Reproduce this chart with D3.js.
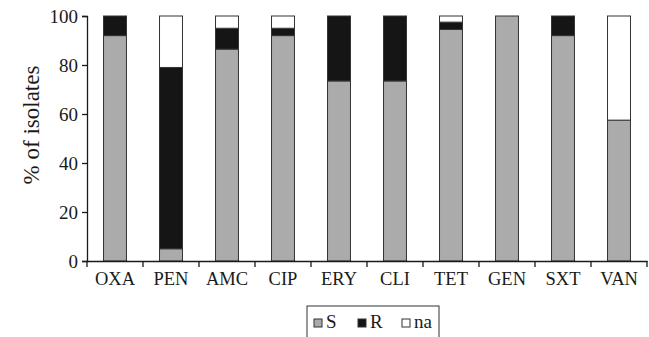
<!DOCTYPE html>
<html>
<head>
<meta charset="utf-8">
<script src="https://cdn.jsdelivr.net/npm/d3@7"></script>
<style>
  body { margin: 0; background: #fff; }
  svg text { font-family: "Liberation Serif", "Times New Roman", serif; fill: #1a1a1a; }
</style>
</head>
<body>
<div id="chart"></div>
<script>
// data
const drugs = ["OXA", "PEN", "AMC", "CIP", "ERY", "CLI", "TET", "GEN", "SXT", "VAN"];
const susceptible = [92, 5, 86.5, 92, 73.5, 73.5, 94.5, 100, 92, 57.5];
const resistant = [8, 74, 8.5, 3, 26.5, 26.5, 3, 0, 8, 0];
const notAvailable = [0, 21, 5, 5, 0, 0, 2.5, 0, 0, 42.5];
const yTicks = [0, 20, 40, 60, 80, 100];
const seriesNames = ["S", "R", "na"];
const seriesColors = ["#ababab", "#151515", "#ffffff"];

const W = 649, H = 337;
const margin = {top: 16, right: 2, bottom: 76, left: 87};
const width = W - margin.left - margin.right;
const height = H - margin.top - margin.bottom;

const rows = drugs.map((d, i) => ({drug: d, S: susceptible[i], R: resistant[i], na: notAvailable[i]}));
const stacked = d3.stack().keys(seriesNames)(rows);

const svg = d3.select("#chart").append("svg")
  .attr("width", W).attr("height", H);
const g = svg.append("g").attr("transform", `translate(${margin.left},${margin.top})`);

const x = d3.scaleBand().domain(drugs).range([0, width])
  .paddingInner(0.59).paddingOuter(0.295);
const xCell = d3.scaleBand().domain(drugs).range([0, width]);
const y = d3.scaleLinear().domain([0, 100]).range([height, 0]);
const color = d3.scaleOrdinal().domain(seriesNames).range(seriesColors);

// bars
g.selectAll("g.layer")
  .data(stacked)
  .join("g")
  .attr("class", "layer")
  .attr("fill", d => color(d.key))
  .selectAll("rect")
  .data(d => d.filter(p => p[1] - p[0] > 0))
  .join("rect")
  .attr("x", d => x(d.data.drug))
  .attr("y", d => y(d[1]))
  .attr("width", x.bandwidth())
  .attr("height", d => y(d[0]) - y(d[1]))
  .attr("stroke", "#333")
  .attr("stroke-width", 1);

// y axis
const yAxis = g.append("g")
  .call(d3.axisLeft(y).tickValues(yTicks).tickSize(5).tickPadding(4));
yAxis.select(".domain").attr("stroke", "#1a1a1a").attr("stroke-width", 1.3);
yAxis.selectAll(".tick line").attr("stroke", "#1a1a1a").attr("stroke-width", 1.3);
yAxis.selectAll("text").style("font-size", "19px").style("font-family", "Liberation Serif, serif");

// x axis: labels centered, ticks on the cell boundaries
const xAxis = g.append("g").attr("transform", `translate(0,${height})`)
  .call(d3.axisBottom(x).tickSize(0).tickPadding(11).tickSizeOuter(0));
xAxis.select(".domain").attr("stroke", "#1a1a1a").attr("stroke-width", 1.3);
xAxis.selectAll("text").style("font-size", "18.5px").style("font-family", "Liberation Serif, serif");

const bounds = drugs.map(d => xCell(d)).concat([width]);
xAxis.selectAll("line.bound")
  .data(bounds)
  .join("line")
  .attr("class", "bound")
  .attr("x1", d => d).attr("x2", d => d)
  .attr("y1", 0).attr("y2", 6)
  .attr("stroke", "#1a1a1a").attr("stroke-width", 1.3);

// y label
svg.append("text")
  .attr("transform", "translate(39,125) rotate(-90)")
  .attr("text-anchor", "middle")
  .style("font-size", "23px")
  .text("% of isolates");

// legend
const legend = svg.append("g").attr("transform", "translate(307,306)");
legend.append("rect")
  .attr("x", 0).attr("y", 0).attr("width", 132).attr("height", 40)
  .attr("fill", "none").attr("stroke", "#333").attr("stroke-width", 1);
const legendX = [7, 51, 95];
const item = legend.selectAll("g.item")
  .data(seriesNames)
  .join("g")
  .attr("class", "item")
  .attr("transform", (d, i) => `translate(${legendX[i]},0)`);
item.append("rect")
  .attr("x", 0).attr("y", 13).attr("width", 8).attr("height", 8)
  .attr("fill", d => color(d)).attr("stroke", "#333").attr("stroke-width", 1);
item.append("text")
  .attr("x", 12).attr("y", 22)
  .style("font-size", "19px")
  .text(d => d);
</script>
</body>
</html>
